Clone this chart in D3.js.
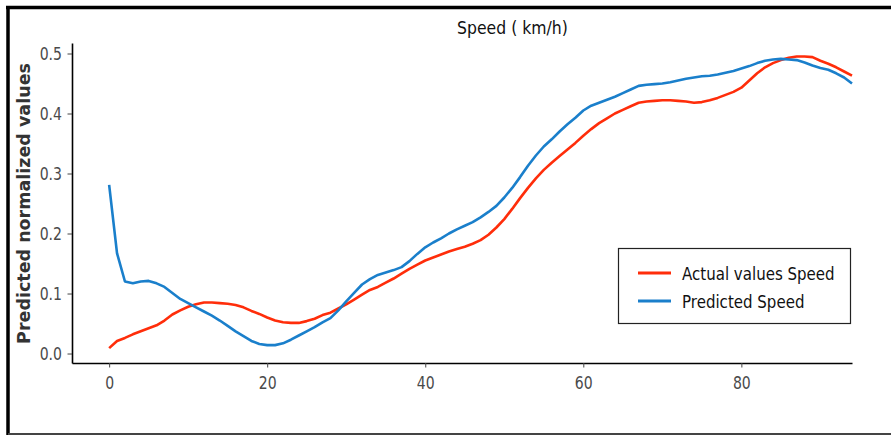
<!DOCTYPE html>
<html>
<head>
<meta charset="utf-8">
<script src="https://cdn.jsdelivr.net/npm/d3@7"></script>
<style>
  body { margin: 0; background: #fff; }
  text { font-family: "DejaVu Sans", sans-serif; }
</style>
</head>
<body>
<div id="chart"></div>
<script>
// data (index 0..94)
var actual = [0.009,0.021,0.026,0.032,0.037,0.042,0.047,0.055,0.065,0.072,
  0.078,0.082,0.085,0.085,0.084,0.083,0.081,0.077,0.071,0.066,
  0.060,0.055,0.052,0.051,0.051,0.054,0.058,0.064,0.068,0.075,
  0.082,0.090,0.098,0.106,0.111,0.118,0.125,0.133,0.141,0.148,
  0.155,0.160,0.165,0.170,0.174,0.178,0.183,0.189,0.198,0.210,
  0.224,0.241,0.259,0.276,0.292,0.306,0.318,0.329,0.340,0.351,
  0.363,0.374,0.384,0.392,0.400,0.406,0.412,0.418,0.420,0.421,
  0.422,0.422,0.421,0.420,0.418,0.419,0.422,0.426,0.431,0.436,
  0.443,0.455,0.467,0.477,0.484,0.489,0.493,0.495,0.495,0.494,
  0.488,0.483,0.477,0.470,0.463];
var predicted = [0.281,0.167,0.120,0.117,0.120,0.121,0.117,0.111,0.101,0.091,
  0.084,0.077,0.070,0.063,0.055,0.046,0.037,0.029,0.021,0.016,
  0.014,0.014,0.017,0.023,0.030,0.037,0.044,0.052,0.059,0.072,
  0.087,0.101,0.115,0.124,0.131,0.135,0.139,0.144,0.154,0.166,
  0.177,0.185,0.192,0.200,0.207,0.213,0.219,0.227,0.236,0.246,
  0.260,0.276,0.294,0.313,0.330,0.345,0.357,0.370,0.382,0.393,
  0.405,0.413,0.418,0.423,0.428,0.434,0.440,0.446,0.448,0.449,
  0.450,0.452,0.455,0.458,0.460,0.462,0.463,0.465,0.468,0.471,
  0.475,0.479,0.484,0.488,0.490,0.491,0.490,0.489,0.485,0.480,
  0.476,0.473,0.467,0.460,0.450];
var xTicks = [0, 20, 40, 60, 80];
var yTicks = [0.0, 0.1, 0.2, 0.3, 0.4, 0.5];
var seriesNames = ["Actual values Speed", "Predicted Speed"];
var colors = ["#ff2d0a", "#1a7fcb"];

var W = 891, H = 436;
var svg = d3.select("#chart").append("svg")
  .attr("width", W).attr("height", H);

// outer frame (left + top heavy, bottom thin)
svg.append("line").attr("x1", 8).attr("x2", 8).attr("y1", 6).attr("y2", 435)
  .attr("stroke", "#000").attr("stroke-width", 3.5);
svg.append("line").attr("x1", 6).attr("x2", W).attr("y1", 7.5).attr("y2", 7.5)
  .attr("stroke", "#000").attr("stroke-width", 3.5);
svg.append("line").attr("x1", 8).attr("x2", W).attr("y1", 434).attr("y2", 434)
  .attr("stroke", "#444").attr("stroke-width", 2);

var x = d3.scaleLinear().domain([-4.7, 94]).range([72, 852]);
var y = d3.scaleLinear().domain([-0.0158, 0.5175]).range([363, 43]);

// squeeze horizontal text a bit (picture is horizontally compressed)
function squeeze(sel, k) {
  sel.each(function() {
    var len = this.getComputedTextLength();
    d3.select(this).attr("textLength", len * k).attr("lengthAdjust", "spacingAndGlyphs");
  });
}

var gx = svg.append("g")
  .attr("transform", "translate(0,363)")
  .call(d3.axisBottom(x).tickValues(xTicks).tickFormat(d3.format("d")).tickSize(4.5).tickPadding(9).tickSizeOuter(0));
var gy = svg.append("g")
  .attr("transform", "translate(72,0)")
  .call(d3.axisLeft(y).tickValues(yTicks).tickFormat(d3.format(".1f")).tickSize(4.5).tickPadding(5.5).tickSizeOuter(0));

[gx, gy].forEach(function(g) {
  g.select(".domain").attr("stroke", "#000").attr("stroke-width", 1.6);
  g.selectAll(".tick line").attr("stroke", "#444").attr("stroke-width", 1);
  g.selectAll(".tick text").attr("font-size", 17.8).attr("fill", "#4a4a4a")
    .style("font-family", "DejaVu Sans");
  squeeze(g.selectAll(".tick text"), 0.79);
});

// y label
svg.append("text")
  .attr("transform", "translate(30,203.5) rotate(-90)")
  .attr("text-anchor", "middle")
  .attr("font-size", 17.5).attr("font-weight", "bold").attr("fill", "#333")
  .text("Predicted normalized values");

// title
var title = svg.append("text")
  .attr("x", 512.5).attr("y", 34)
  .attr("text-anchor", "middle")
  .attr("font-size", 18).attr("fill", "#111")
  .text("Speed ( km/h)");
squeeze(title, 0.87);

// lines
var line = d3.line()
  .x(function(d, i) { return x(i); })
  .y(function(d) { return y(d); });
[actual, predicted].forEach(function(s, k) {
  svg.append("path")
    .datum(s)
    .attr("fill", "none")
    .attr("stroke", colors[k])
    .attr("stroke-width", 2.6)
    .attr("stroke-linejoin", "round")
    .attr("d", line);
});

// legend
var lg = svg.append("g");
lg.append("rect")
  .attr("x", 618.5).attr("y", 248.5).attr("width", 232).attr("height", 75)
  .attr("fill", "#fff").attr("stroke", "#222").attr("stroke-width", 1.2);
seriesNames.forEach(function(name, k) {
  var ly = 273 + k * 28;
  lg.append("line").attr("x1", 638).attr("x2", 671).attr("y1", ly).attr("y2", ly)
    .attr("stroke", colors[k]).attr("stroke-width", 3);
  var t = lg.append("text").attr("x", 682).attr("y", ly + 6.5)
    .attr("font-size", 18).attr("fill", "#111").text(name);
  squeeze(t, 0.835);
});
</script>
</body>
</html>
